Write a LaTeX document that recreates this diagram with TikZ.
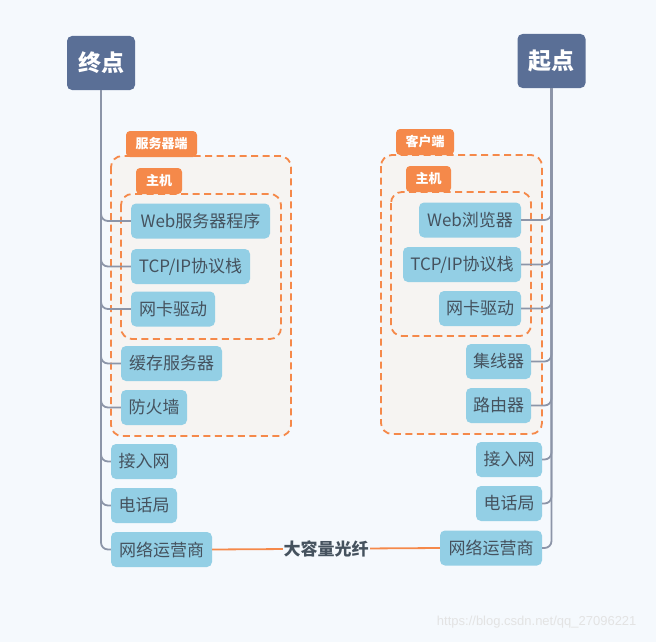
\documentclass[tikz,border=0pt]{standalone}
\usepackage{fontspec}
\setmainfont{Noto Sans CJK SC}
\newfontfamily\wmfont{Liberation Sans}
\definecolor{bg}{HTML}{F5F9FD}
\definecolor{rootc}{HTML}{5A6F96}
\definecolor{itemc}{HTML}{93CFE5}
\definecolor{txtc}{HTML}{45525E}
\definecolor{orangec}{HTML}{F5894A}
\definecolor{groupc}{HTML}{F6F4F2}
\definecolor{linec}{HTML}{8C95A8}
\tikzset{
  root/.style={fill=rootc, rounded corners=5pt, text=white, font=\fontsize{23}{25}\selectfont\bfseries, minimum width=68pt, minimum height=54pt, inner sep=0pt},
  item/.style={fill=itemc, rounded corners=5pt, text=txtc, font=\fontsize{17}{19}\selectfont, minimum height=35pt, inner sep=0pt},
  grp/.style={draw=orangec, fill=groupc, line width=1.8pt, dash pattern=on 7pt off 4.5pt, rounded corners=11pt},
  tab/.style={fill=orangec, rounded corners=4pt, text=white, font=\fontsize{13}{15}\selectfont\bfseries, minimum height=26pt, inner sep=0pt},
  trunk/.style={draw=linec, line width=1.8pt, rounded corners=7pt},
  fiber/.style={draw=orangec, line width=1.8pt},
}
\begin{document}
\begin{tikzpicture}[x=1pt,y=-1pt]
\fill[bg] (0,0) rectangle (656,642);
\useasboundingbox (0,0) rectangle (656,642);
% groups
\draw[grp] (111,156) rectangle (291,436);
\draw[grp] (121,194) rectangle (281,339);
\draw[grp] (381,155) rectangle (542,434);
\draw[grp] (391,192) rectangle (531,336);
% tabs
\node[tab, minimum width=71pt] (tabS) at (161.5,144) {服务器端};
\node[tab, minimum width=46pt] (tabSH) at (159,181) {主机};
\node[tab, minimum width=58pt] (tabC) at (425,142) {客户端};
\node[tab, minimum width=45pt] (tabCH) at (428.5,179) {主机};
% roots
\node[root] (end) at (101,63) {终点};
\node[root] (start) at (551.5,61) {起点};
% left items
\node[item, minimum width=139pt] (l1) at (200.5,221) {Web服务器程序};
\node[item, minimum width=119pt] (l2) at (190.5,266.5) {TCP/IP协议栈};
\node[item, minimum width=84pt] (l3) at (173,309) {网卡驱动};
\node[item, minimum width=101pt] (l4) at (171.5,363.5) {缓存服务器};
\node[item, minimum width=66pt] (l5) at (154,407.5) {防火墙};
\node[item, minimum width=66pt] (l6) at (144,461.5) {接入网};
\node[item, minimum width=66pt] (l7) at (144,505.5) {电话局};
\node[item, minimum width=101pt] (l8) at (161.5,549.5) {网络运营商};
% right items
\node[item, minimum width=102pt] (r1) at (470,220) {Web浏览器};
\node[item, minimum width=118pt] (r2) at (462,264.5) {TCP/IP协议栈};
\node[item, minimum width=82pt] (r3) at (480,308.5) {网卡驱动};
\node[item, minimum width=65pt] (r4) at (498.5,361.5) {集线器};
\node[item, minimum width=65pt] (r5) at (498.5,405.5) {路由器};
\node[item, minimum width=66pt] (r6) at (509,459.5) {接入网};
\node[item, minimum width=66pt] (r7) at (509,503.5) {电话局};
\node[item, minimum width=102pt] (r8) at (491,548) {网络运营商};
% trunks
\foreach \n in {l1,l2,l3,l4,l5,l6,l7,l8} \draw[trunk] (end.south) |- (\n.west);
\foreach \n in {r1,r2,r3,r4,r5,r6,r7,r8} \draw[trunk] (start.south) |- (\n.east);
% fiber
\draw[fiber] (l8.east) -- node[fill=bg, inner xsep=1pt, inner ysep=2pt, text=txtc, font=\fontsize{17}{19}\selectfont\bfseries] (fib) {大容量光纤} (r8.west);
% watermark
\node[anchor=east, text=black!11, font=\wmfont\fontsize{13}{15}\selectfont] (wm) at (640,622) {https://blog.csdn.net/qq\_27096221};
\end{tikzpicture}
\end{document}
